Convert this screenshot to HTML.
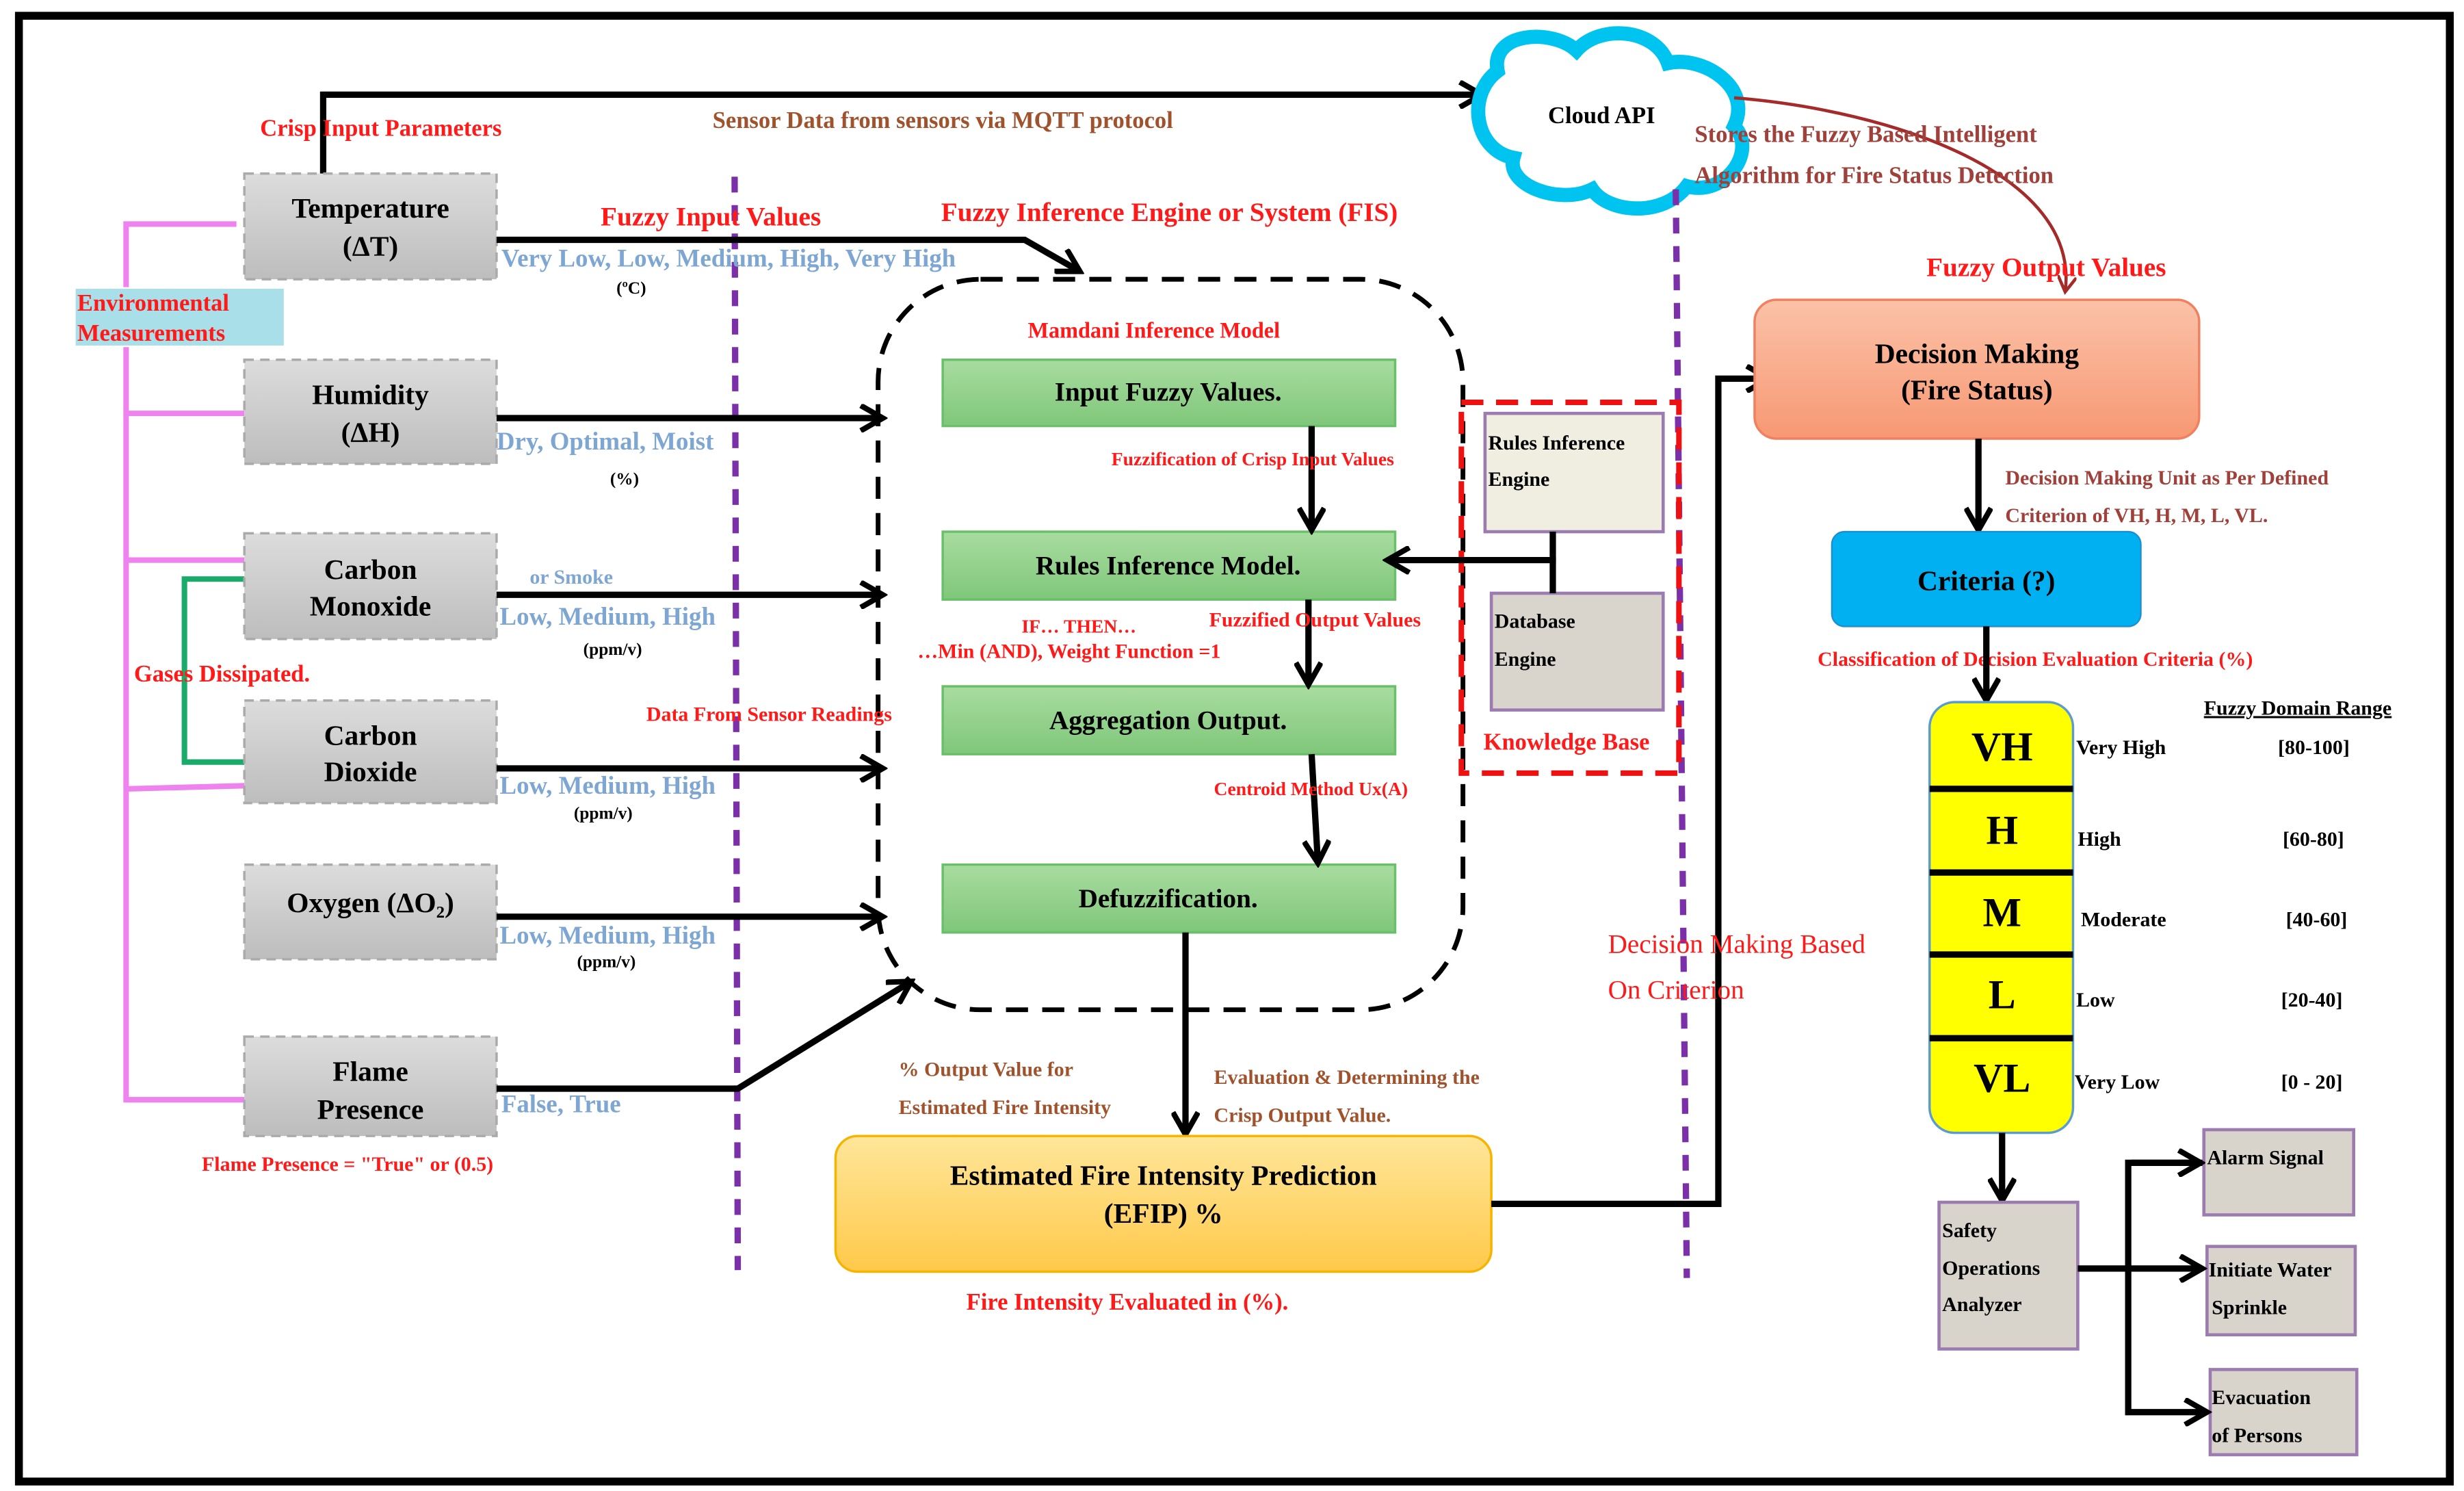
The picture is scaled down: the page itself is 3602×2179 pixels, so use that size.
<!DOCTYPE html>
<html><head><meta charset="utf-8"><style>
html,body{margin:0;padding:0;background:#fff}
svg{display:block}
svg text{font-family:"Liberation Serif","DejaVu Serif",serif;font-weight:bold}
</style></head><body>
<svg width="3602" height="2179" viewBox="0 0 1563 945" preserveAspectRatio="none" xmlns="http://www.w3.org/2000/svg" font-family="Liberation Serif, DejaVu Serif, serif">
<defs>
<linearGradient id="gray" x1="0" y1="0" x2="0" y2="1"><stop offset="0" stop-color="#dcdcdc"/><stop offset="1" stop-color="#bdbdbd"/></linearGradient>
<linearGradient id="green" x1="0" y1="0" x2="0" y2="1"><stop offset="0" stop-color="#a9dca0"/><stop offset="1" stop-color="#7fc77a"/></linearGradient>
<linearGradient id="orange" x1="0" y1="0" x2="0" y2="1"><stop offset="0" stop-color="#ffe69a"/><stop offset="1" stop-color="#ffc94a"/></linearGradient>
<linearGradient id="salmon" x1="0" y1="0" x2="0" y2="1"><stop offset="0" stop-color="#fbc2a8"/><stop offset="1" stop-color="#f79873"/></linearGradient>
<marker id="arB" markerWidth="18" markerHeight="18" refX="15" refY="9" orient="auto" markerUnits="userSpaceOnUse"><path d="M1,1 L15,9 L1,17" fill="none" stroke="#000" stroke-width="3.5"/></marker>
<marker id="arR" markerWidth="12" markerHeight="12" refX="10" refY="6" orient="auto" markerUnits="userSpaceOnUse"><path d="M0,0 L10,6 L0,12" fill="none" stroke="#a52a2a" stroke-width="2"/></marker>
</defs>
<rect x="12" y="10" width="1542" height="929" fill="#fff" stroke="#000" stroke-width="5"/>

<polyline points="205,110 205,60 940,60" fill="none" stroke="#000" stroke-width="4" marker-end="url(#arB)"/>
<path d="M950,45 C945,20 985,18 1000,32 C1015,15 1050,18 1058,40 C1080,35 1112,55 1100,80 C1115,95 1095,125 1070,118 C1055,138 1020,135 1010,120 C990,130 955,118 960,100 C935,95 930,60 950,45 Z" fill="#fff" stroke="#00c4f0" stroke-width="9"/>
<text x="982" y="78" font-size="15">Cloud API</text>
<path d="M1100,62 C1200,70 1320,110 1310,185" fill="none" stroke="#a52a2a" stroke-width="2" marker-end="url(#arR)"/>

<text x="165" y="86" font-size="15" fill="#ff1a1a">Crisp Input Parameters</text>
<text x="452" y="81" font-size="15" fill="#a0522d">Sensor Data from sensors via MQTT protocol</text>
<text x="1075" y="90" font-size="15" fill="#a0403a">Stores the Fuzzy Based Intelligent</text>
<text x="1075" y="116" font-size="15" fill="#a0403a">Algorithm for Fire Status Detection</text>

<line x1="466" y1="112" x2="468" y2="805" stroke="#7b2fa8" stroke-width="4" stroke-dasharray="10,8"/>
<line x1="1063" y1="120" x2="1070" y2="810" stroke="#7b2fa8" stroke-width="4" stroke-dasharray="10,8"/>

<g stroke="#ee82ee" stroke-width="3.5" fill="none">
<polyline points="150,142 80,142 80,182"/>
<polyline points="80,220 80,697 155,697"/>
<line x1="80" y1="262" x2="155" y2="262"/>
<line x1="80" y1="355" x2="155" y2="355"/>
<line x1="80" y1="500" x2="155" y2="498"/>
</g>
<rect x="48" y="183" width="132" height="36" fill="#a8dfe8"/>
<text x="49" y="197" font-size="15" fill="#ff1a1a">Environmental</text>
<text x="49" y="216" font-size="15" fill="#ff1a1a">Measurements</text>
<polyline points="155,367 117,367 117,483 155,483" fill="none" stroke="#1aaa6a" stroke-width="3.5"/>
<text x="85" y="432" font-size="15" fill="#ff1a1a">Gases Dissipated.</text>

<g stroke="#aaa" stroke-width="1.5" stroke-dasharray="6,4" fill="url(#gray)">
<rect x="155" y="110" width="160" height="67"/>
<rect x="155" y="228" width="160" height="66"/>
<rect x="155" y="338" width="160" height="67"/>
<rect x="155" y="444" width="160" height="65"/>
<rect x="155" y="548" width="160" height="60"/>
<rect x="155" y="657" width="160" height="63"/>
</g>
<g font-size="18" text-anchor="middle">
<text x="235" y="138">Temperature</text><text x="235" y="162">(ΔT)</text>
<text x="235" y="256">Humidity</text><text x="235" y="280">(ΔH)</text>
<text x="235" y="367">Carbon</text><text x="235" y="390">Monoxide</text>
<text x="235" y="472">Carbon</text><text x="235" y="495">Dioxide</text>
<text x="235" y="578">Oxygen (ΔO₂)</text>
<text x="235" y="685">Flame</text><text x="235" y="709">Presence</text>
</g>

<g stroke="#000" stroke-width="4" fill="none">
<polyline points="315,152 650,152 685,172" marker-end="url(#arB)"/>
<line x1="315" y1="265" x2="560" y2="265" marker-end="url(#arB)"/>
<line x1="315" y1="377" x2="560" y2="377" marker-end="url(#arB)"/>
<line x1="315" y1="487" x2="560" y2="487" marker-end="url(#arB)"/>
<line x1="315" y1="581" x2="560" y2="581" marker-end="url(#arB)"/>
<polyline points="315,690 468,690 578,622" marker-end="url(#arB)"/>
</g>
<g font-size="16" fill="#7ea6d2">
<text x="318" y="169">Very Low, Low, Medium, High, Very High</text>
<text x="315" y="285">Dry, Optimal, Moist</text>
<text x="336" y="370" font-size="13">or Smoke</text>
<text x="317" y="396">Low, Medium, High</text>
<text x="317" y="503">Low, Medium, High</text>
<text x="317" y="598">Low, Medium, High</text>
<text x="318" y="705">False, True</text>
</g>
<g font-size="11" fill="#000">
<text x="391" y="186">(ºC)</text>
<text x="387" y="307">(%)</text>
<text x="370" y="415">(ppm/v)</text>
<text x="364" y="519">(ppm/v)</text>
<text x="366" y="613">(ppm/v)</text>
</g>
<text x="128" y="742" font-size="13" fill="#ff1a1a">Flame Presence = "True" or (0.5)</text>

<text x="381" y="143" font-size="17" fill="#ff1a1a">Fuzzy Input Values</text>
<text x="597" y="140" font-size="17" fill="#ff1a1a">Fuzzy Inference Engine or System (FIS)</text>

<rect x="557" y="177" width="371" height="463" rx="65" fill="none" stroke="#000" stroke-width="3" stroke-dasharray="14,9"/>
<text x="652" y="214" font-size="14" fill="#ff1a1a">Mamdani Inference Model</text>
<g stroke="#6abf6a" stroke-width="1.5" fill="url(#green)">
<rect x="598" y="228" width="287" height="42"/>
<rect x="598" y="337" width="287" height="43"/>
<rect x="598" y="435" width="287" height="43"/>
<rect x="598" y="548" width="287" height="43"/>
</g>
<g font-size="17" text-anchor="middle">
<text x="741" y="254">Input Fuzzy Values.</text>
<text x="741" y="364">Rules Inference Model.</text>
<text x="741" y="462">Aggregation Output.</text>
<text x="741" y="575">Defuzzification.</text>
</g>
<g stroke="#000" stroke-width="4" fill="none">
<line x1="832" y1="270" x2="832" y2="336" marker-end="url(#arB)"/>
<line x1="830" y1="380" x2="830" y2="434" marker-end="url(#arB)"/>
<line x1="832" y1="478" x2="836" y2="547" marker-end="url(#arB)"/>
<line x1="752" y1="591" x2="752" y2="719" marker-end="url(#arB)"/>
</g>
<g font-size="12" fill="#ff1a1a">
<text x="705" y="295">Fuzzification of Crisp Input Values</text>
<text x="648" y="401">IF… THEN…</text>
<text x="582" y="417" font-size="13">…Min (AND), Weight Function  =1</text>
<text x="767" y="397" font-size="13">Fuzzified Output Values</text>
<text x="770" y="504">Centroid Method Ux(A)</text>
<text x="410" y="457" font-size="13">Data From Sensor Readings</text>
</g>

<rect x="927" y="255" width="138" height="235" fill="none" stroke="#ee1111" stroke-width="3.5" stroke-dasharray="14,8"/>
<rect x="942" y="262" width="113" height="75" fill="#efeee0" stroke="#9b7bb0" stroke-width="2"/>
<rect x="946" y="376" width="109" height="74" fill="#d9d5cc" stroke="#9b7bb0" stroke-width="2"/>
<g font-size="13"><text x="944" y="285">Rules Inference</text><text x="944" y="308">Engine</text>
<text x="948" y="398">Database</text><text x="948" y="422">Engine</text></g>
<text x="941" y="475" font-size="15" fill="#ff1a1a">Knowledge Base</text>
<g stroke="#000" stroke-width="4" fill="none">
<line x1="985" y1="337" x2="985" y2="376"/>
<line x1="987" y1="355" x2="880" y2="355" marker-end="url(#arB)"/>
</g>

<g font-size="13" fill="#a0522d">
<text x="570" y="682">% Output Value for</text><text x="570" y="706">Estimated Fire Intensity</text>
<text x="770" y="687">Evaluation &amp; Determining the</text><text x="770" y="711">Crisp Output Value.</text>
</g>
<rect x="530" y="720" width="416" height="86" rx="14" fill="url(#orange)" stroke="#f5b400" stroke-width="1.5"/>
<text x="738" y="751" font-size="18" text-anchor="middle">Estimated Fire Intensity Prediction</text>
<text x="738" y="775" font-size="18" text-anchor="middle">(EFIP) %</text>
<text x="613" y="830" font-size="15" fill="#ff1a1a">Fire Intensity Evaluated in (%).</text>

<polyline points="946,763 1090,763 1090,240 1122,240" fill="none" stroke="#000" stroke-width="4" marker-end="url(#arB)"/>
<text x="1020" y="604" font-size="17" fill="#ff1a1a" font-weight="normal" style="font-weight:normal">Decision Making Based</text>
<text x="1020" y="633" font-size="17" fill="#ff1a1a" style="font-weight:normal">On Criterion</text>

<text x="1222" y="175" font-size="17" fill="#ff1a1a">Fuzzy Output Values</text>
<rect x="1113" y="190" width="282" height="88" rx="14" fill="url(#salmon)" stroke="#f08060" stroke-width="1.5"/>
<text x="1254" y="230" font-size="18" text-anchor="middle">Decision Making</text>
<text x="1254" y="253" font-size="18" text-anchor="middle">(Fire Status)</text>
<line x1="1255" y1="278" x2="1255" y2="336" stroke="#000" stroke-width="4" marker-end="url(#arB)"/>
<text x="1272" y="307" font-size="13" fill="#a0403a">Decision Making Unit as Per Defined</text>
<text x="1272" y="331" font-size="13" fill="#a0403a">Criterion of VH, H, M, L, VL.</text>
<rect x="1162" y="337" width="196" height="60" rx="8" fill="#00b0f0" stroke="#1c8fd0" stroke-width="1"/>
<text x="1260" y="374" font-size="18" text-anchor="middle">Criteria (?)</text>
<text x="1153" y="422" font-size="13" fill="#ff1a1a">Classification of Decision Evaluation Criteria (%)</text>
<line x1="1260" y1="397" x2="1260" y2="444" stroke="#000" stroke-width="4" marker-end="url(#arB)"/>

<rect x="1224" y="445" width="91" height="273" rx="16" fill="#ffff00" stroke="#5b9bd5" stroke-width="1.5"/>
<g stroke="#000" stroke-width="4">
<line x1="1224" y1="500" x2="1315" y2="500"/><line x1="1224" y1="553" x2="1315" y2="553"/>
<line x1="1224" y1="605" x2="1315" y2="605"/><line x1="1224" y1="658" x2="1315" y2="658"/>
</g>
<g font-size="26" text-anchor="middle">
<text x="1270" y="482">VH</text><text x="1270" y="535">H</text><text x="1270" y="587">M</text><text x="1270" y="639">L</text><text x="1270" y="692">VL</text>
</g>
<text x="1398" y="453" font-size="13" text-decoration="underline">Fuzzy Domain Range</text>
<g font-size="13">
<text x="1317" y="478">Very High</text><text x="1445" y="478">[80-100]</text>
<text x="1318" y="536">High</text><text x="1448" y="536">[60-80]</text>
<text x="1320" y="587">Moderate</text><text x="1450" y="587">[40-60]</text>
<text x="1317" y="638">Low</text><text x="1447" y="638">[20-40]</text>
<text x="1316" y="690">Very Low</text><text x="1447" y="690">[0 - 20]</text>
</g>

<line x1="1270" y1="718" x2="1270" y2="761" stroke="#000" stroke-width="4" marker-end="url(#arB)"/>
<g fill="#d8d4cc" stroke="#9b7bb0" stroke-width="2">
<rect x="1230" y="762" width="88" height="93"/>
<rect x="1398" y="716" width="95" height="54"/>
<rect x="1400" y="790" width="94" height="56"/>
<rect x="1402" y="868" width="93" height="54"/>
</g>
<g font-size="13">
<text x="1232" y="784">Safety</text><text x="1232" y="808">Operations</text><text x="1232" y="831">Analyzer</text>
<text x="1400" y="738">Alarm Signal</text>
<text x="1401" y="809">Initiate Water</text><text x="1403" y="833">Sprinkle</text>
<text x="1403" y="890">Evacuation</text><text x="1403" y="914">of Persons</text>
</g>
<g stroke="#000" stroke-width="4" fill="none">
<line x1="1318" y1="804" x2="1397" y2="804" marker-end="url(#arB)"/>
<polyline points="1397,737 1350,737 1350,895 1400,895" marker-end="url(#arB)"/>
<line x1="1352" y1="737" x2="1396" y2="737" marker-end="url(#arB)"/>
</g>
</svg>
</body></html>
